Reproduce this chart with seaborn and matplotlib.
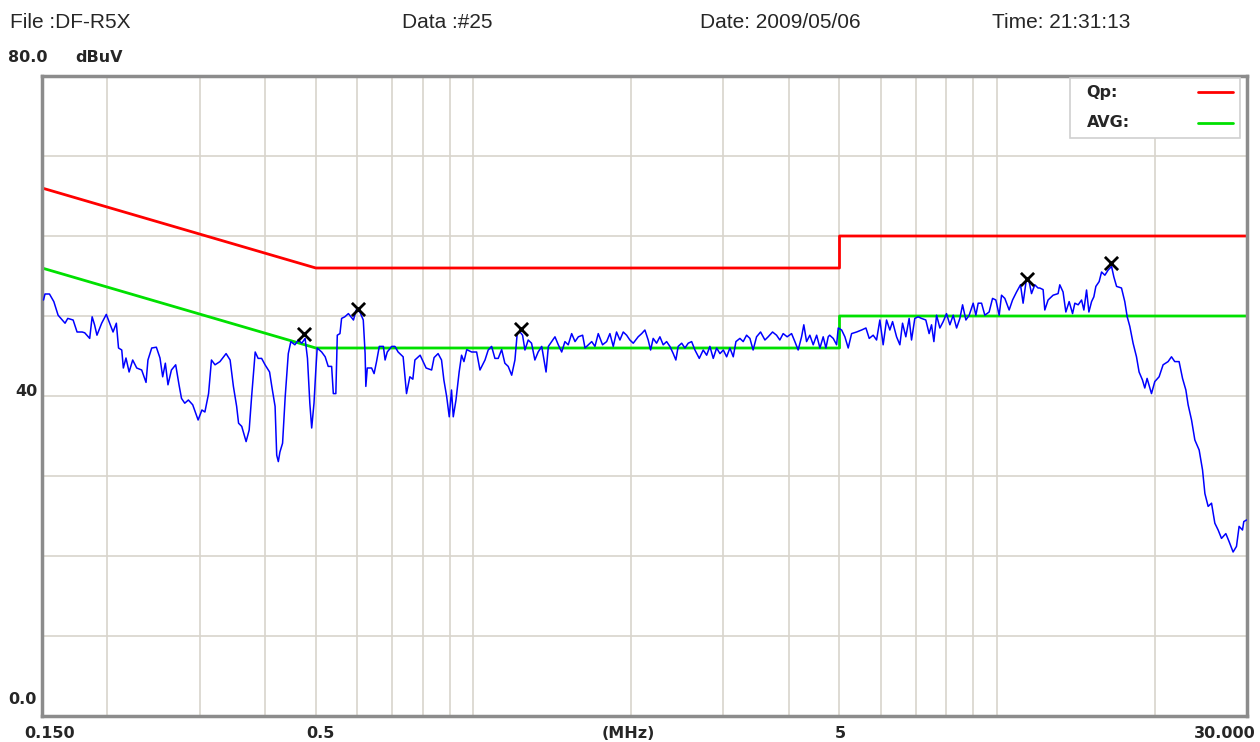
import numpy as np
import pandas as pd
import seaborn as sns
import matplotlib.pyplot as plt
from matplotlib.patches import Rectangle

# measured trace (MHz, dBuV)
freq = [0.151, 0.152, 0.155, 0.158, 0.161, 0.164, 0.166, 0.168, 0.172, 0.175,
        0.179, 0.181, 0.185, 0.187, 0.189, 0.191, 0.195, 0.199, 0.202, 0.205,
        0.208, 0.210, 0.213, 0.2145, 0.217, 0.220, 0.2235, 0.2275, 0.2325, 0.237,
        0.239, 0.243, 0.248, 0.252, 0.255, 0.258, 0.261, 0.265, 0.270, 0.274,
        0.277, 0.281, 0.2855, 0.291, 0.298, 0.303, 0.307, 0.312, 0.316, 0.321,
        0.328, 0.337, 0.343, 0.348, 0.353, 0.356, 0.361, 0.368, 0.373, 0.377,
        0.383, 0.388, 0.394, 0.400, 0.408, 0.412, 0.418, 0.421, 0.424, 0.427,
        0.432, 0.437, 0.443, 0.448, 0.456, 0.463, 0.470, 0.477, 0.482, 0.487,
        0.491, 0.496, 0.500, 0.503, 0.513, 0.521, 0.528, 0.536, 0.540, 0.546,
        0.5495, 0.556, 0.560, 0.568, 0.577, 0.590, 0.597, 0.607, 0.616, 0.621,
        0.623, 0.627, 0.639, 0.646, 0.653, 0.661, 0.673, 0.678, 0.6845, 0.698,
        0.708, 0.718, 0.734, 0.745, 0.756, 0.766, 0.773, 0.791, 0.812, 0.832,
        0.841, 0.856, 0.869, 0.878, 0.889, 0.899, 0.908, 0.915, 0.926, 0.939,
        0.949, 0.959, 0.971, 0.992, 1.014, 1.029, 1.052, 1.067, 1.083, 1.099,
        1.115, 1.132, 1.148, 1.165, 1.183, 1.200, 1.212, 1.227, 1.241, 1.254,
        1.272, 1.291, 1.310, 1.329, 1.350, 1.376, 1.390, 1.410, 1.431, 1.452,
        1.474, 1.495, 1.517, 1.540, 1.563, 1.586, 1.616, 1.633, 1.657, 1.682,
        1.706, 1.731, 1.764, 1.796, 1.822, 1.849, 1.876, 1.904, 1.932, 1.961,
        1.989, 2.019, 2.063, 2.095, 2.125, 2.156, 2.179, 2.204, 2.237, 2.270,
        2.303, 2.338, 2.372, 2.407, 2.435, 2.460, 2.498, 2.534, 2.571, 2.610,
        2.648, 2.699, 2.746, 2.788, 2.828, 2.870, 2.913, 2.956, 3.000, 3.044,
        3.088, 3.134, 3.171, 3.227, 3.274, 3.323, 3.372, 3.420, 3.472, 3.534,
        3.602, 3.654, 3.725, 3.791, 3.846, 3.903, 3.972, 4.050, 4.109, 4.169,
        4.232, 4.274, 4.326, 4.389, 4.454, 4.522, 4.588, 4.654, 4.710, 4.758,
        4.788, 4.864, 4.937, 4.972, 5.047, 5.120, 5.195, 5.273, 5.391, 5.510,
        5.616, 5.698, 5.798, 5.885, 5.971, 6.058, 6.149, 6.239, 6.314, 6.426,
        6.520, 6.597, 6.693, 6.791, 6.863, 6.963, 7.065, 7.171, 7.308, 7.415,
        7.494, 7.572, 7.662, 7.774, 7.888, 8.004, 8.124, 8.243, 8.367, 8.489,
        8.590, 8.716, 8.843, 9.000, 9.107, 9.200, 9.338, 9.473, 9.654, 9.800,
        9.943, 10.09, 10.195, 10.344, 10.542, 10.701, 10.89, 11.082, 11.209, 11.378,
        11.509, 11.632, 11.801, 11.97, 12.06, 12.24, 12.331, 12.511, 12.79, 13.074,
        13.171, 13.362, 13.527, 13.725, 13.932, 14.073, 14.28, 14.495, 14.642, 14.816,
        14.97, 15.146, 15.30, 15.435, 15.66, 15.827, 16.059, 16.293, 16.538, 16.703,
        16.907, 17.276, 17.528, 17.716, 17.92, 18.18, 18.454, 18.666, 18.946, 19.14,
        19.334, 19.712, 20.0, 20.382, 20.744, 21.204, 21.524, 21.836, 22.256, 22.595,
        22.928, 23.158, 23.508, 23.853, 24.308, 24.673, 24.93, 25.288, 25.668, 26.043,
        26.425, 26.817, 27.333, 27.729, 28.221, 28.644, 28.977, 29.412, 29.58, 29.93]

level = [52.0, 52.75, 52.75, 51.8, 50.1, 49.5, 49.1, 49.7, 49.5, 48.0,
         48.0, 47.9, 47.2, 49.9, 48.9, 47.6, 49.1, 50.2, 49.1, 48.0,
         49.1, 46.0, 45.75, 43.5, 44.75, 43.0, 44.5, 43.5, 43.25, 41.7,
         44.5, 46.0, 46.1, 44.75, 42.4, 44.1, 41.4, 43.25, 43.9, 41.4,
         39.7, 39.1, 39.5, 38.9, 37.0, 38.25, 38.0, 40.3, 44.5, 43.9,
         44.3, 45.3, 44.5, 41.2, 38.7, 36.6, 36.2, 34.3, 35.75, 39.9,
         45.5, 44.7, 44.7, 43.9, 43.0, 41.2, 38.7, 32.6, 31.8, 33.0,
         34.1, 39.9, 45.3, 46.8, 46.4, 47.0, 46.6, 47.2, 44.7, 39.1,
         36.0, 39.1, 43.25, 46.0, 45.5, 44.9, 43.7, 43.7, 40.3, 40.3,
         47.6, 47.8, 49.7, 49.9, 50.3, 49.5, 50.75, 50.5, 49.5, 45.3,
         41.2, 43.5, 43.5, 42.8, 44.3, 46.2, 46.2, 44.5, 45.5, 46.2,
         46.2, 45.5, 44.9, 40.3, 42.4, 42.1, 44.5, 45.1, 43.5, 43.25,
         44.8, 45.3, 44.5, 42.0, 39.9, 37.4, 40.75, 37.4, 39.5, 43.0,
         45.1, 44.3, 45.8, 45.5, 45.5, 43.25, 44.5, 45.75, 46.2, 44.7,
         44.7, 45.8, 44.1, 43.7, 42.6, 44.5, 47.8, 48.0, 47.6, 45.75,
         47.0, 46.6, 44.5, 45.5, 46.2, 43.0, 46.2, 46.8, 47.4, 46.4,
         45.5, 46.8, 46.4, 47.8, 46.8, 47.4, 47.6, 46.0, 46.4, 46.8,
         46.2, 47.8, 46.4, 46.8, 47.8, 46.2, 48.0, 47.0, 48.0, 47.6,
         47.0, 46.6, 47.4, 47.8, 48.25, 47.0, 45.75, 47.2, 46.6, 47.4,
         46.4, 46.8, 46.2, 45.3, 44.5, 46.2, 46.6, 46.0, 46.6, 46.8,
         45.75, 44.7, 45.75, 45.1, 46.2, 44.7, 46.0, 45.3, 45.75, 44.9,
         46.0, 44.9, 46.8, 47.2, 46.8, 47.6, 47.2, 45.75, 47.4, 48.0,
         47.0, 47.4, 48.0, 47.6, 47.0, 47.8, 47.4, 47.8, 46.8, 45.75,
         47.4, 48.9, 46.8, 47.6, 46.4, 47.6, 46.0, 47.4, 46.0, 47.4,
         47.6, 47.2, 46.4, 48.5, 48.25, 47.4, 46.0, 47.8, 48.0, 48.25,
         48.5, 47.2, 47.6, 47.0, 49.5, 46.4, 49.5, 48.25, 49.3, 47.4,
         46.4, 49.1, 47.4, 49.7, 47.0, 49.7, 49.9, 49.7, 49.5, 47.8,
         48.9, 46.8, 50.1, 48.5, 49.3, 50.3, 48.9, 50.1, 48.5, 49.7,
         51.4, 49.5, 50.1, 51.6, 50.1, 51.6, 51.6, 50.1, 50.5, 52.2,
         52.0, 50.1, 52.6, 52.2, 50.75, 52.0, 53.0, 53.9, 51.6, 54.7,
         54.3, 52.8, 53.9, 53.5, 53.5, 53.3, 50.75, 52.0, 52.6, 52.8,
         53.9, 53.0, 50.5, 51.8, 50.3, 51.6, 51.4, 52.0, 50.75, 53.25,
         50.5, 51.8, 52.4, 53.7, 54.3, 55.5, 55.1, 55.75, 56.2, 54.9,
         53.7, 53.5, 51.8, 49.9, 48.7, 46.6, 44.9, 43.0, 42.0, 41.0,
         42.2, 40.3, 41.8, 42.4, 43.9, 44.3, 44.9, 44.3, 44.3, 42.2,
         40.75, 38.9, 37.0, 34.5, 33.25, 30.75, 27.8, 26.2, 26.6, 24.1,
         23.25, 22.2, 22.8, 21.8, 20.5, 21.2, 23.7, 23.25, 24.3, 24.5]

# limit lines
qp_freq = [0.15, 0.5, 5, 5, 30]
qp_level = [66, 56, 56, 60, 60]
avg_freq = [0.15, 0.5, 5, 5, 30]
avg_level = [56, 46, 46, 50, 50]

# peak markers
peak_freq = [0.475, 0.602, 1.232, 11.40, 16.5]
peak_level = [47.8, 50.9, 48.4, 54.6, 56.6]

grid_freq = [0.2, 0.3, 0.4, 0.5, 0.6, 0.7, 0.8, 0.9, 1, 2, 3, 4, 5, 6, 7, 8, 9, 10, 20]

sns.set_style("white")
plt.rcParams['font.family'] = ['Liberation Sans', 'DejaVu Sans']

fig = plt.figure(figsize=(12.6, 7.42), dpi=100)
ax = fig.add_axes([42 / 1260, 26 / 742, 1205 / 1260, 640 / 742])

df = pd.DataFrame({"freq": freq, "level": level})
sns.lineplot(data=df, x="freq", y="level", ax=ax, color="#0000ff", lw=1.1,
             estimator=None, sort=False, zorder=3)
sns.lineplot(x=qp_freq, y=qp_level, ax=ax, color="#ff0000", lw=2.0,
             estimator=None, sort=False, zorder=2)
sns.lineplot(x=avg_freq, y=avg_level, ax=ax, color="#00e000", lw=2.0,
             estimator=None, sort=False, zorder=2)
ax.scatter(peak_freq, peak_level, marker="x", s=90, color="black",
           linewidths=2, zorder=4)

ax.set_xscale("log")
ax.set_xlim(0.15, 30)
ax.set_ylim(0, 80)
ax.set_xticks(grid_freq)
ax.set_xticks([], minor=True)
ax.set_yticks(range(10, 80, 10))
ax.set_xticklabels([])
ax.set_yticklabels([])
ax.tick_params(length=0)
ax.grid(True, color="#d8d4cc", lw=1.2)
ax.set_xlabel("")
ax.set_ylabel("")
for s in ax.spines.values():
    s.set_color("#8c8c8c")
    s.set_linewidth(2.5)

# legend box
ax.add_patch(Rectangle((0.853, 0.903), 0.141, 0.094, transform=ax.transAxes,
                       facecolor="white", edgecolor="#d0d0d0", lw=1.2, zorder=5))
bold = dict(fontweight="bold", fontsize=11.5, family="DejaVu Sans", zorder=6)
ax.text(0.867, 0.975, "Qp:", transform=ax.transAxes, va="center", **bold)
ax.text(0.867, 0.927, "AVG:", transform=ax.transAxes, va="center", **bold)
ax.plot([0.959, 0.988], [0.975, 0.975], transform=ax.transAxes, color="#ff0000", lw=2, zorder=6)
ax.plot([0.959, 0.988], [0.926, 0.926], transform=ax.transAxes, color="#00e000", lw=2, zorder=6)

# header
hdr = dict(fontsize=15, va="center")
fig.text(10 / 1260, 1 - 22 / 742, "File :DF-R5X", **hdr)
fig.text(402 / 1260, 1 - 22 / 742, "Data :#25", **hdr)
fig.text(700 / 1260, 1 - 22 / 742, "Date: 2009/05/06", **hdr)
fig.text(992 / 1260, 1 - 22 / 742, "Time: 21:31:13", **hdr)

lab = dict(fontweight="bold", fontsize=11.5, family="DejaVu Sans", va="center")
fig.text(8 / 1260, 1 - 58 / 742, "80.0", **lab)
fig.text(75 / 1260, 1 - 58 / 742, "dBuV", **lab)
fig.text(15 / 1260, 1 - 392 / 742, "40", **lab)
fig.text(8 / 1260, 1 - 700 / 742, "0.0", **lab)

fig.text(50 / 1260, 1 - 733 / 742, "0.150", ha="center", **lab)
fig.text(320 / 1260, 1 - 733 / 742, "0.5", ha="center", **lab)
fig.text(628 / 1260, 1 - 733 / 742, "(MHz)", ha="center", **lab)
fig.text(840 / 1260, 1 - 733 / 742, "5", ha="center", **lab)
fig.text(1256 / 1260, 1 - 733 / 742, "30.000", ha="right", **lab)

fig.savefig("out.png", dpi=100)
